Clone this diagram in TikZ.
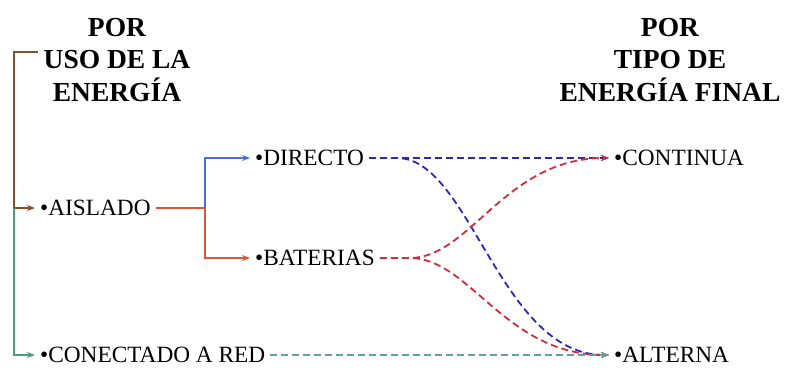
\documentclass[tikz,border=0pt]{standalone}
\usepackage{fontspec}
\setmainfont{Liberation Serif}
\usetikzlibrary{arrows.meta}

\definecolor{trunkbrown}{RGB}{140,75,45}
\definecolor{splitred}{RGB}{225,85,50}
\definecolor{splitblue}{RGB}{70,110,225}
\definecolor{trunkgreen}{RGB}{70,160,120}
\definecolor{dashblue}{RGB}{40,40,190}
\definecolor{dashred}{RGB}{210,45,60}
\definecolor{dashgreen}{RGB}{100,160,150}

\tikzset{
  heading/.style={align=center, inner sep=0pt,
    font=\fontsize{27.5}{32.5}\selectfont\bfseries},
  item/.style={anchor=west, inner xsep=5pt, inner ysep=0pt,
    text height=15.3pt, text depth=0pt,
    font=\fontsize{23.3}{26}\selectfont},
  tip/.style={-{Stealth[length=8pt,width=6pt]}},
  solidline/.style={line width=1.8pt},
  dashline/.style={line width=1.8pt, dash pattern=on 7pt off 4pt, tip},
}

\begin{document}
\begin{tikzpicture}[x=1pt,y=-1pt]
  \useasboundingbox (0,0) rectangle (785,372);

  % column headings
  \node[heading] (huse) at (117,60) {POR\\USO DE LA\\ENERGÍA};
  \node[heading] (htype) at (670,60) {POR\\TIPO DE\\ENERGÍA FINAL};

  % items
  \node[item] (ais) at (35,208) {•AISLADO};
  \node[item] (red) at (35,355) {•CONECTADO A RED};
  \node[item] (dir) at (250,158) {•DIRECTO};
  \node[item] (bat) at (250,258) {•BATERIAS};
  \node[item] (cont) at (609,158) {•CONTINUA};
  \node[item] (alt) at (609,355) {•ALTERNA};

  % branch points
  \coordinate (bstart) at (38,52);
  \coordinate (trunk) at (14,208);
  \coordinate (fork) at (205,208);

  % left tree: use of the energy
  \draw[solidline, trunkbrown, tip] (bstart) -| (trunk) -- (ais.west);
  \draw[solidline, trunkgreen, tip] (trunk) |- (red.west);
  \draw[solidline, splitred] (ais.east) -- (fork);
  \draw[solidline, splitblue, tip] (fork) |- (dir.west);
  \draw[solidline, splitred, tip] (fork) |- (bat.west);

  % right side: type of final energy
  \draw[dashline, dashblue] (dir.east) -- (cont.west);
  \draw[dashline, dashblue] (dir.east) -- ++(28,0)
    .. controls (470,158) and (500,355) .. (alt.west);
  \draw[dashline, dashred] (bat.east) -- ++(30,0)
    .. controls (470,258) and (505,158) .. (cont.west);
  \draw[dashline, dashred] (bat.east) -- ++(30,0)
    .. controls (470,258) and (505,355) .. (alt.west);
  \draw[dashline, dashgreen] (red.east) -- (alt.west);
\end{tikzpicture}
\end{document}
